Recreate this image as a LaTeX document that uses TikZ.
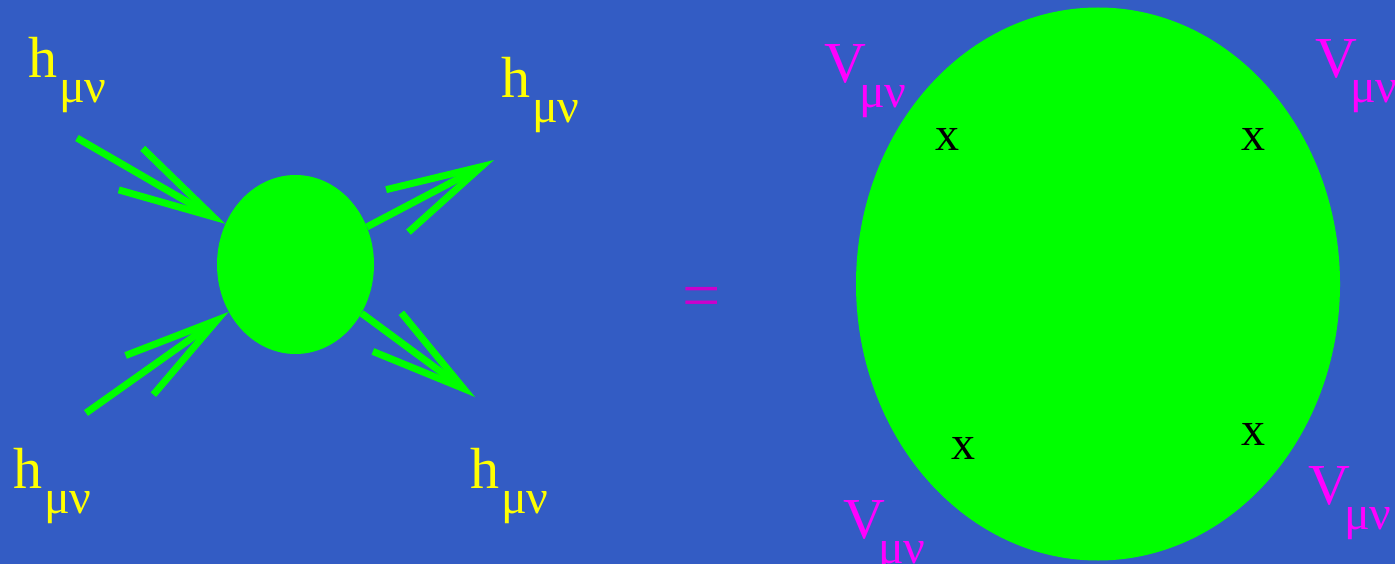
\documentclass[tikz,border=0pt]{standalone}
\usepackage{fontspec}
\setmainfont{Liberation Serif}
\usetikzlibrary{arrows.meta, shapes.geometric, positioning}
\definecolor{SlideBlue}{HTML}{335CC4}
\definecolor{BlobGreen}{HTML}{00FF00}
\definecolor{FieldInk}{HTML}{FFFF00}
\definecolor{VertInk}{HTML}{FF00FF}
\definecolor{EqInk}{HTML}{CC00CC}
\newcommand{\fieldlab}[3]{#1\kern#3\raisebox{-25pt}{\fontsize{48pt}{48pt}\selectfont #2}}

\begin{document}
\begin{tikzpicture}[
  x=1pt, y=-1pt,
  font=\fontsize{58pt}{58pt}\selectfont,
  blob/.style={
    ellipse,
    fill=BlobGreen,
    inner sep=0pt,
  },
  leg/.style={
    BlobGreen,
    line width=7pt,
    -{Straight Barb[length=95pt, width=48pt]},
  },
  hlab/.style={text=FieldInk, anchor=base west, inner sep=0pt},
  vlab/.style={text=VertInk, anchor=base west, inner sep=0pt},
  cross/.style={font=\fontsize{48pt}{48pt}\selectfont, inner sep=0pt},
]
  \fill[SlideBlue] (0,0) rectangle (1395,564);
  \useasboundingbox (0,0) rectangle (1395,564);

  % scattering blob
  \node[blob, minimum width=157pt, minimum height=179pt] (amp) at (295.5,264.5) {};
  \coordinate (inA) at (77,138);
  \coordinate (inB) at (86,413);
  \coordinate (outA) at (494,160);
  \coordinate (outB) at (475,397);
  \draw[leg] (inA) -- (amp);
  \draw[leg] (inB) -- (amp);
  \draw[leg] (amp) -- (outA);
  \draw[leg] (amp) -- (outB);

  \node[hlab] (hA) at (28,78) {\fieldlab{h}{μν}{2pt}};
  \node[hlab] (hB) at (13,488) {\fieldlab{h}{μν}{2pt}};
  \node[hlab] (hC) at (501,98) {\fieldlab{h}{μν}{2pt}};
  \node[hlab] (hD) at (470,488) {\fieldlab{h}{μν}{2pt}};

  \node[text=EqInk, font=\fontsize{68pt}{68pt}\selectfont, inner sep=0pt] (eq) at (701.5,302.5) {=};

  % loop with four insertions
  \node[blob, minimum width=484pt, minimum height=553pt] (loop) at (1098,284) {};
  \node[cross] (xA) at (947,139.5) {x};
  \node[cross] (xB) at (1253,139.5) {x};
  \node[cross] (xC) at (963,448.5) {x};
  \node[cross] (xD) at (1253,434.5) {x};

  \node[vlab] (vA) at (824,83) {\fieldlab{V}{μν}{-7pt}};
  \node[vlab] (vB) at (1315,78) {\fieldlab{V}{μν}{-7pt}};
  \node[vlab] (vC) at (843,538) {\fieldlab{V}{μν}{-7pt}};
  \node[vlab] (vD) at (1308,504) {\fieldlab{V}{μν}{-6pt}};
\end{tikzpicture}
\end{document}
